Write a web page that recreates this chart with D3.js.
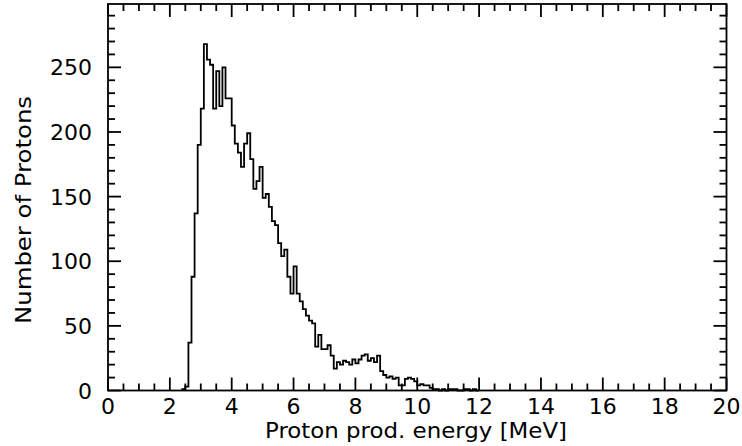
<!DOCTYPE html>
<html>
<head>
<meta charset="utf-8">
<script src="https://cdn.jsdelivr.net/npm/d3@7"></script>
<style>
  html, body { margin: 0; padding: 0; background: #fff; }
  svg text { font-family: "DejaVu Sans", "Liberation Sans", sans-serif; fill: #000; }
</style>
</head>
<body>
<svg id="chart" width="742" height="446"></svg>
<script>
// ---- data ----
const binLow = 2.4;          // lower edge of first non-empty bin [MeV]
const binWidth = 0.1;        // bin width [MeV]
const counts = [
  1, 3, 37, 88, 137, 190, 218, 268, 256, 252,       // 2.4 - 3.3
  218, 247, 220, 250, 226, 226, 205, 191, 184, 173, // 3.4 - 4.3
  191, 199, 179, 156, 162, 173, 149, 152, 142, 131, // 4.4 - 5.3
  128, 114, 104, 109, 88, 75, 96, 75, 69, 63,       // 5.4 - 6.3
  58, 54, 52, 34, 43, 32, 32, 35, 27, 17,           // 6.4 - 7.3
  22, 20, 23, 22, 20, 24, 21, 24, 27, 28,           // 7.4 - 8.3
  23, 25, 22, 27, 15, 12, 10, 11, 9, 10,            // 8.4 - 9.3
  4, 4, 9, 10, 9, 7, 4, 5, 4, 4,                    // 9.4 - 10.3
  2, 1, 1, 0, 1, 0, 1, 1, 1, 0,                     // 10.4 - 11.3
  0, 1, 1, 0, 1, 0                                  // 11.4 - 11.9
];
const xTickLabels = ["0","2","4","6","8","10","12","14","16","18","20"];
const yTickLabels = ["0","50","100","150","200","250"];
const xTitle = "Proton prod. energy [MeV]";
const yTitle = "Number of Protons";

// ---- layout ----
const L = 108, R = 726.5, T = 4, B = 390.5;
const svg = d3.select("#chart");
const x = d3.scaleLinear().domain([0, 20]).range([L, R]);
const y = d3.scaleLinear().domain([0, 299]).range([B, T]);

const lw = 1.8;

// histogram as a step line
const pts = [[binLow, 0]];
counts.forEach((c, i) => {
  pts.push([binLow + i * binWidth, c]);
});
pts.push([binLow + counts.length * binWidth, counts[counts.length - 1]]);
pts.push([binLow + counts.length * binWidth, 0]);
const line = d3.line().x(d => x(d[0])).y(d => y(d[1])).curve(d3.curveStepAfter);
svg.append("path")
  .attr("d", line(pts))
  .attr("fill", "none")
  .attr("stroke", "#000")
  .attr("stroke-width", lw)
  .attr("stroke-linejoin", "miter");

// ticks (inward on all four sides)
const xMinor = d3.range(0, 20.001, 0.5);
const yMinor = d3.range(0, 299, 10);
function tickLen(v, major) { return Math.abs(v / major - Math.round(v / major)) < 1e-6 ? 13 : 7; }

const gT = svg.append("g");
xMinor.forEach(v => {
  const len = tickLen(v, 2);
  gT.append("line").attr("x1", x(v)).attr("x2", x(v)).attr("y1", B).attr("y2", B - len);
  gT.append("line").attr("x1", x(v)).attr("x2", x(v)).attr("y1", T).attr("y2", T + len);
});
yMinor.forEach(v => {
  const len = tickLen(v, 50);
  gT.append("line").attr("y1", y(v)).attr("y2", y(v)).attr("x1", L).attr("x2", L + len);
  gT.append("line").attr("y1", y(v)).attr("y2", y(v)).attr("x1", R).attr("x2", R - len);
});
gT.selectAll("line").attr("stroke", "#000").attr("stroke-width", lw);

// frame
svg.append("rect").attr("x", L).attr("y", T).attr("width", R - L).attr("height", B - T)
  .attr("fill", "none").attr("stroke", "#000").attr("stroke-width", lw);

// tick labels
svg.append("g").selectAll("text").data(xTickLabels).join("text")
  .attr("x", d => x(+d)).attr("y", 414)
  .attr("text-anchor", "middle").attr("font-size", 22)
  .text(d => d);
svg.append("g").selectAll("text").data(yTickLabels).join("text")
  .attr("x", 92).attr("y", d => y(+d) + 8)
  .attr("text-anchor", "end").attr("font-size", 22)
  .text(d => d);

// titles
svg.append("text").attr("x", 416).attr("y", 438).attr("text-anchor", "middle")
  .attr("font-size", 21).attr("textLength", 302).attr("lengthAdjust", "spacingAndGlyphs").text(xTitle);
svg.append("text").attr("transform", "translate(31,210) rotate(-90)").attr("text-anchor", "middle")
  .attr("font-size", 22).attr("textLength", 228).attr("lengthAdjust", "spacingAndGlyphs").text(yTitle);
</script>
</body>
</html>
